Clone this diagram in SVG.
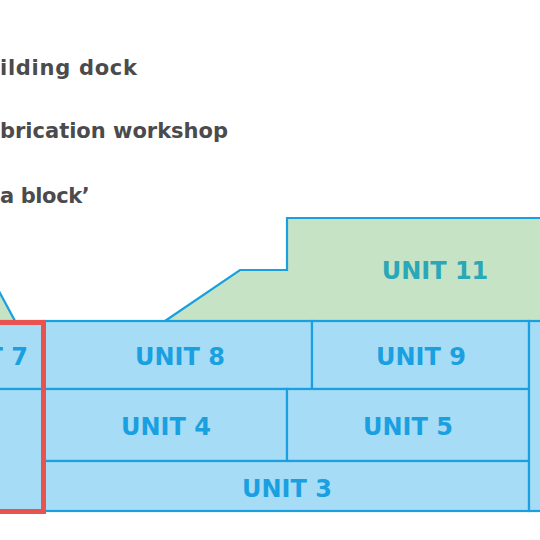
<svg xmlns="http://www.w3.org/2000/svg" width="540" height="540" viewBox="0 0 540 540">
<style>
.legend{font-family:"DejaVu Sans",sans-serif;font-weight:bold;font-size:21px;fill:#4b4b4d}
.blue{fill:#a6dcf5;stroke:#1aa0e0;stroke-width:2.2}
.green{fill:#c6e3c5;stroke:#1aa0e0;stroke-width:2.2;stroke-linejoin:miter}
.lbl{font-family:"DejaVu Sans",sans-serif;font-weight:bold;font-size:24px;fill:#1aa0e0;text-anchor:middle}
.lbl11{font-family:"DejaVu Sans",sans-serif;font-weight:bold;font-size:24px;fill:#2aa8b8;text-anchor:middle}
</style>
<rect width="540" height="540" fill="#ffffff"/>
<g id="legend">
<text class="legend" x="0" y="75" textLength="137">ilding dock</text>
<text class="legend" x="0" y="138" textLength="228">brication workshop</text>
<text class="legend" x="0" y="203" letter-spacing="-0.4">a block’</text>
</g>
<g id="green-left"><polygon class="green" points="-6,282 15,321 -6,321"/></g>
<g id="unit11">
<polygon class="green" points="165,321 240,270 287,270 287,218 546,218 546,321"/>
<text class="lbl11" x="435" y="279">UNIT 11</text>
</g>
<g id="unit7"><rect class="blue" x="-6" y="321" width="50" height="68"/><text class="lbl" x="28" y="365" style="text-anchor:end">T 7</text></g>
<g id="unit8"><rect class="blue" x="44" y="321" width="268" height="68"/><text class="lbl" x="180" y="365">UNIT 8</text></g>
<g id="unit9"><rect class="blue" x="312" y="321" width="217" height="68"/><text class="lbl" x="421" y="365">UNIT 9</text></g>
<g id="unit-left"><rect class="blue" x="-6" y="389" width="50" height="122"/></g>
<g id="unit4"><rect class="blue" x="44" y="389" width="243" height="72"/><text class="lbl" x="166" y="435">UNIT 4</text></g>
<g id="unit5"><rect class="blue" x="287" y="389" width="242" height="72"/><text class="lbl" x="408" y="435">UNIT 5</text></g>
<g id="unit3"><rect class="blue" x="44" y="461" width="485" height="50"/><text class="lbl" x="287" y="497">UNIT 3</text></g>
<g id="unit-right"><rect class="blue" x="529" y="321" width="20" height="190"/></g>
<g id="highlight"><rect x="-10" y="322.5" width="53.5" height="189" fill="none" stroke="#e8534f" stroke-width="5"/></g>
</svg>
